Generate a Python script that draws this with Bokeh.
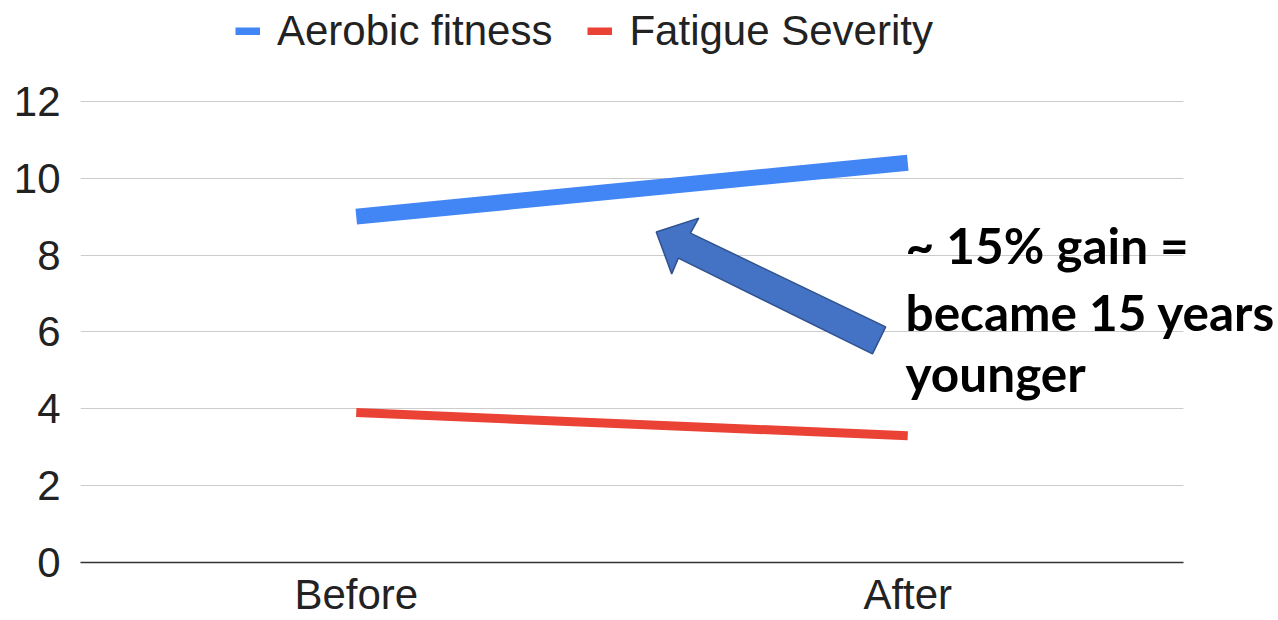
from bokeh.plotting import figure
from bokeh.models import Range1d, FixedTicker, Legend, LegendItem, Label, BoxAnnotation
from bokeh.embed import file_html
from bokeh.resources import INLINE

# Data
stages = ["Before", "After"]
aerobic_fitness = [9.0, 10.4]
fatigue_severity = [3.9, 3.3]
y_ticks = [0, 2, 4, 6, 8, 10, 12]
note_lines = ["~ 15% gain =", "became 15 years", "younger"]

BLUE = "#4285F4"
RED = "#EA4335"
TEXT = "#222222"
FONT = "Liberation Sans"

# Each stage sits in the middle of its own unit-wide slot
stage_pos = [i + 0.5 for i in range(len(stages))]
n_slots = len(stages)

# Layout: the plotting area runs on past the last slot to the right edge so
# the callout text has room, and up to the top edge to hold the legend.
W, H = 1278, 620
LEFT, BOTTOM = 80, 57
SLOT_W = 551.5                      # pixels per category slot
PX_PER_UNIT = 462 / y_ticks[-1]     # pixels per y unit
FRAME_H = H - BOTTOM
x_end = (W - LEFT) / SLOT_W
y_end = FRAME_H / PX_PER_UNIT

p = figure(
    width=W, height=H,
    x_range=Range1d(0, x_end), y_range=Range1d(0, y_end),
    output_backend="svg", toolbar_location=None,
    min_border_left=LEFT, min_border_right=0,
    min_border_top=0, min_border_bottom=BOTTOM,
)
p.outline_line_color = None
p.background_fill_color = "white"
p.border_fill_color = "white"

# Axes and grid
p.xgrid.grid_line_color = None
p.ygrid.grid_line_color = "#cccccc"
p.ygrid.grid_line_width = 1
p.yaxis.ticker = FixedTicker(ticks=y_ticks)
p.yaxis.axis_line_color = None
p.yaxis.major_tick_line_color = None
p.yaxis.minor_tick_line_color = None
p.yaxis.major_tick_out = 0
p.yaxis.minor_tick_out = 0
p.yaxis.major_label_standoff = 20

p.xaxis.ticker = FixedTicker(ticks=stage_pos)
p.xaxis.major_label_overrides = {pos: name for pos, name in zip(stage_pos, stages)}
p.xaxis.bounds = (0, n_slots)
p.xaxis.axis_line_color = "#333333"
p.xaxis.axis_line_width = 1.5
p.xaxis.major_tick_line_color = None
p.xaxis.minor_tick_line_color = None
p.xaxis.major_tick_out = 0
p.xaxis.minor_tick_out = 0
p.xaxis.major_label_standoff = 8
for ax in (p.xaxis, p.yaxis):
    ax.major_label_text_font = FONT
    ax.major_label_text_font_size = "42px"
    ax.major_label_text_color = TEXT

# Keep the gridlines inside the category slots
p.add_layout(BoxAnnotation(left=n_slots, fill_color="white", fill_alpha=1,
                           line_color=None, level="underlay"))

# Series
p.line(stage_pos, aerobic_fitness, line_width=16, color=BLUE, line_cap="butt")
p.line(stage_pos, fatigue_severity, line_width=9, color=RED, line_cap="butt")

# Legend keys: thin swatches that are not drawn in the plot itself
nan_y = [float("nan")] * n_slots
sw_blue = p.line(stage_pos, nan_y, line_width=8, color=BLUE)
sw_red = p.line(stage_pos, nan_y, line_width=8, color=RED)
legend = Legend(
    items=[LegendItem(label="Aerobic fitness", renderers=[sw_blue]),
           LegendItem(label="Fatigue Severity", renderers=[sw_red])],
    orientation="horizontal", location=(155, FRAME_H - 56),
    glyph_width=25, glyph_height=8, label_standoff=17, spacing=35,
    padding=0, margin=0, border_line_color=None, background_fill_alpha=0,
    label_text_font=FONT, label_text_font_size="42px", label_text_color=TEXT,
    label_text_line_height=1.0,
)
p.add_layout(legend)

# Callout arrow pointing at the fitness line
arrow_x = [1.044, 1.121, 1.106, 1.460, 1.436, 1.084, 1.072]
arrow_y = [8.60, 8.96, 8.57, 6.13, 5.43, 7.92, 7.51]
p.patch(arrow_x, arrow_y, fill_color="#4472C4", line_color="#2F528F", line_width=1.5)

# Callout text
for txt, yb in zip(note_lines, [8.25, 6.51, 4.92]):
    p.add_layout(Label(x=1.496, y=yb, text=txt, text_font="Lato",
                       text_font_style="bold", text_font_size="49.5px",
                       text_color="black", text_baseline="alphabetic"))

open("out.html", "w").write(file_html(p, INLINE))
